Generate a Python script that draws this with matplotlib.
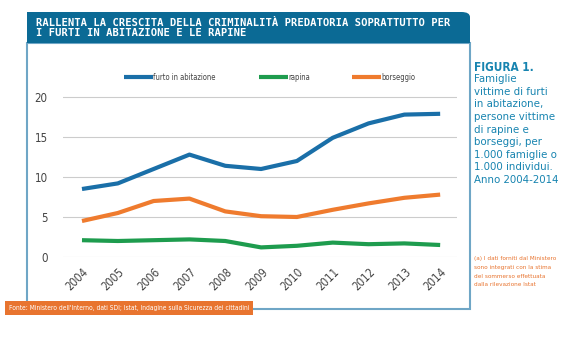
import matplotlib.pyplot as plt
from matplotlib.patches import Rectangle, FancyBboxPatch
from matplotlib import font_manager
from matplotlib.font_manager import FontProperties

years = [2004, 2005, 2006, 2007, 2008, 2009, 2010, 2011, 2012, 2013, 2014]
furto = [8.5, 9.2, 11.0, 12.8, 11.4, 11.0, 12.0, 14.9, 16.7, 17.8, 17.9]
rapina = [2.1, 2.0, 2.1, 2.2, 2.0, 1.2, 1.4, 1.8, 1.6, 1.7, 1.5]
borseggio = [4.5, 5.5, 7.0, 7.3, 5.7, 5.1, 5.0, 5.9, 6.7, 7.4, 7.8]
yticks = [0, 5, 10, 15, 20]

# look for a condensed face among installed fonts
files = sorted({f.fname for f in font_manager.fontManager.ttflist})
cond = [p for p in files if ('Condensed' in p or 'Narrow' in p)]
reg = [p for p in cond if 'Bold' not in p and 'Oblique' not in p and 'Italic' not in p]
bold = [p for p in cond if 'Bold' in p and 'Oblique' not in p and 'Italic' not in p]

def fp(size, b=False):
    src = bold if b else reg
    if src:
        return FontProperties(fname=src[0], size=size)
    return FontProperties(family='DejaVu Sans', size=size, weight='bold' if b else 'normal')

W, H = 579, 339
fig = plt.figure(figsize=(W / 100, H / 100), dpi=100)

def fx(px):
    return px / W

def fy(py):
    return 1 - py / H

# frame and title bar
fig.patches.append(Rectangle((fx(27), fy(309)), fx(470 - 27), (309 - 43) / H,
                             transform=fig.transFigure, fill=False,
                             edgecolor='#6fa6c6', linewidth=1.5))
fig.patches.append(FancyBboxPatch((fx(27), fy(43)), fx(470 - 27), (43 - 12) / H,
                                  boxstyle='round,pad=0,rounding_size=0.015',
                                  transform=fig.transFigure,
                                  facecolor='#0b6a95', edgecolor='none'))
fig.patches.append(Rectangle((fx(27), fy(43)), fx(60), (43 - 12) / H,
                             transform=fig.transFigure,
                             facecolor='#0b6a95', edgecolor='none'))
fig.patches.append(Rectangle((fx(400), fy(43)), fx(70), (43 - 30) / H,
                             transform=fig.transFigure,
                             facecolor='#0b6a95', edgecolor='none'))
fig.text(fx(36), fy(28), 'RALLENTA LA CRESCITA DELLA CRIMINALITÀ PREDATORIA SOPRATTUTTO PER\nI FURTI IN ABITAZIONE E LE RAPINE',
         family='DejaVu Sans Mono', weight='bold', fontsize=7.6, color='white',
         va='center', ha='left', linespacing=1.05)

ax = fig.add_axes([fx(63), fy(257), fx(457 - 63), (257 - 77) / H])
ax.plot(years, furto, color='#1a6fa8', lw=3, label='furto in abitazione', solid_capstyle='butt')
ax.plot(years, rapina, color='#1e9c4e', lw=3, label='rapina', solid_capstyle='butt')
ax.plot(years, borseggio, color='#ef7b2e', lw=3, label='borseggio', solid_capstyle='butt')
ax.set_xlim(2003.47, 2014.47)
ax.set_ylim(0, 22.5)
ax.set_yticks(yticks)
ax.set_xticks(years)
ax.set_xticklabels([str(y) for y in years], rotation=45, ha='right', rotation_mode='anchor')
ax.grid(axis='y', color='#cccccc', lw=0.8)
ax.set_axisbelow(True)
for s in ax.spines.values():
    s.set_visible(False)
ax.tick_params(length=0, labelcolor='#444444')
ax.tick_params(axis='x', pad=6)
ax.tick_params(axis='y', pad=11)
for lab in ax.get_xticklabels() + ax.get_yticklabels():
    lab.set_fontproperties(fp(8.3))
leg = ax.legend(loc='center', bbox_to_anchor=(0.525, 1.0), ncol=3, frameon=False,
                handlelength=3.8, handletextpad=0.05, columnspacing=5.6,
                prop=fp(5.5))
for t in leg.get_texts():
    t.set_color('#444444')

# source box
fig.text(fx(9), fy(308), "Fonte: Ministero dell'Interno, dati SDI; Istat, Indagine sulla Sicurezza dei cittadini",
         fontproperties=fp(4.8), color='white', va='center', ha='left',
         bbox=dict(boxstyle='square,pad=0.6', facecolor='#e8742f', edgecolor='none'))

# side caption
fig.text(fx(474), fy(61), 'FIGURA 1.', fontproperties=fp(8.5, True),
         color='#1784b0', va='top', ha='left')
fig.text(fx(474), fy(74), 'Famiglie\nvittime di furti\nin abitazione,\npersone vittime\ndi rapine e\nborseggi, per\n1.000 famiglie o\n1.000 individui.\nAnno 2004-2014',
         fontproperties=fp(8.2), color='#1784b0', va='top', ha='left', linespacing=1.33)
fig.text(fx(474), fy(256), '(a) I dati forniti dal Ministero\nsono integrati con la stima\ndel sommerso effettuata\ndalla rilevazione Istat',
         fontproperties=fp(4.6), color='#e8742f', va='top', ha='left', linespacing=1.95)

fig.savefig('out.png', dpi=100)
